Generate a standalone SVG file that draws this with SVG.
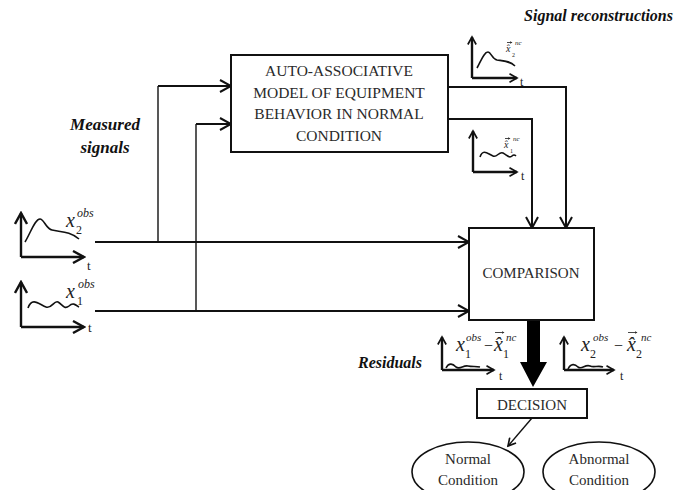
<svg xmlns="http://www.w3.org/2000/svg" width="695" height="490" viewBox="0 0 695 490" font-family="'Liberation Serif', 'DejaVu Serif', serif">
  <style>
    .box { fill: #fff; stroke: #111; stroke-width: 2; }
    .conn { fill: none; stroke: #111; stroke-width: 2; }
    .thin { fill: none; stroke: #111; stroke-width: 1.4; }
    .axis { fill: none; stroke: #111; stroke-width: 2.4; }
    .curve { fill: none; stroke: #111; stroke-width: 1.6; }
    .vec { fill: none; stroke: #333; stroke-width: 0.9; }
    .lbl { fill: #2a2a2a; }
    .cap { font-size: 15.5px; text-anchor: middle; }
    .head { font-weight: bold; font-style: italic; fill: #111; }
    .math { fill: #222; }
    .it { font-style: italic; }
  </style>
  <defs>
    <marker id="chev" viewBox="0 0 14 14" markerWidth="14" markerHeight="14" refX="12" refY="7" orient="auto" markerUnits="userSpaceOnUse">
      <path d="M1,1 L12,7 L1,13" fill="none" stroke="#111" stroke-width="2"/>
    </marker>
    <marker id="axhead" viewBox="0 0 14 14" markerWidth="14" markerHeight="14" refX="12" refY="7" orient="auto" markerUnits="userSpaceOnUse">
      <path d="M1,1 L12,7 L1,13" fill="none" stroke="#111" stroke-width="2.4"/>
    </marker>
    <marker id="axsmall" viewBox="0 0 12 12" markerWidth="10" markerHeight="10" refX="10" refY="6" orient="auto" markerUnits="userSpaceOnUse">
      <path d="M1,1 L10,6 L1,11" fill="none" stroke="#111" stroke-width="2"/>
    </marker>
    <marker id="vecTip" viewBox="0 0 6 6" markerWidth="3" markerHeight="3" refX="5" refY="3" orient="auto" markerUnits="userSpaceOnUse">
      <path d="M0,0 L6,3 L0,6 Z" fill="#333"/>
    </marker>
  </defs>

  <!-- section headings -->
  <text class="head" x="673" y="21" font-size="16" text-anchor="end">Signal reconstructions</text>
  <text class="head" x="105" y="130" font-size="17" text-anchor="middle">Measured</text>
  <text class="head" x="105" y="153" font-size="17" text-anchor="middle">signals</text>
  <text class="head" x="390" y="368" font-size="16" text-anchor="middle">Residuals</text>

  <!-- connectors -->
  <g id="connectors">
    <path class="conn" d="M95,242 H469" marker-end="url(#chev)"/>
    <path class="conn" d="M95,311 H469" marker-end="url(#chev)"/>
    <path class="thin" d="M158,242 V86"/>
    <path class="conn" d="M158,86 H231" marker-end="url(#chev)"/>
    <path class="thin" d="M196,311 V124"/>
    <path class="conn" d="M196,124 H231" marker-end="url(#chev)"/>
    <path class="conn" d="M448,87 H566 V228" marker-end="url(#chev)"/>
    <path class="conn" d="M448,119 H532 V228" marker-end="url(#chev)"/>
    <path d="M527,320 V362 H520 L533,387 L547,362 H540 V320 Z" fill="#000"/>
    <path class="thin" d="M532,418 L508,446" marker-end="url(#axsmall)"/>
  </g>

  <!-- model block -->
  <g id="model">
    <rect class="box" x="231" y="55" width="217" height="97"/>
    <text class="lbl cap" x="339" y="76">AUTO-ASSOCIATIVE</text>
    <text class="lbl cap" x="339" y="98">MODEL OF EQUIPMENT</text>
    <text class="lbl cap" x="339" y="119">BEHAVIOR IN NORMAL</text>
    <text class="lbl cap" x="339" y="141">CONDITION</text>
  </g>

  <!-- comparison block -->
  <g id="comparison">
    <rect class="box" x="469" y="228" width="125" height="92"/>
    <text class="lbl" x="531" y="278" font-size="15" text-anchor="middle">COMPARISON</text>
  </g>

  <!-- decision block -->
  <g id="decision">
    <rect class="box" x="477" y="389" width="110" height="29"/>
    <text class="lbl" x="532" y="410" font-size="15" text-anchor="middle">DECISION</text>
  </g>

  <!-- outcomes -->
  <g id="normal">
    <ellipse cx="468" cy="472" rx="56" ry="30" fill="#fff" stroke="#111" stroke-width="1.6"/>
    <text class="lbl" x="468" y="464" font-size="15" text-anchor="middle">Normal</text>
    <text class="lbl" x="468" y="485" font-size="15" text-anchor="middle">Condition</text>
  </g>
  <g id="abnormal">
    <ellipse cx="599" cy="472" rx="56" ry="30" fill="#fff" stroke="#111" stroke-width="1.6"/>
    <text class="lbl" x="599" y="464" font-size="15" text-anchor="middle">Abnormal</text>
    <text class="lbl" x="599" y="485" font-size="15" text-anchor="middle">Condition</text>
  </g>

  <!-- measured signal x2 -->
  <g id="plot-x2-obs">
    <path class="axis" d="M21,257 V213" marker-end="url(#axhead)"/>
    <path class="axis" d="M21,257 H84" marker-end="url(#axhead)"/>
    <path class="curve" d="M25,242 C31,232 35,219 40,219 C44,219 46,229 52,230 C60,232 70,231 79,239"/>
    <text class="math" x="87" y="270" font-size="13">t</text>
    <text class="math"><tspan class="it" x="66" y="227" font-size="20">x</tspan><tspan class="it" x="77" y="217" font-size="12">obs</tspan><tspan x="76" y="234" font-size="12">2</tspan></text>
  </g>

  <!-- measured signal x1 -->
  <g id="plot-x1-obs">
    <path class="axis" d="M21,327 V282" marker-end="url(#axhead)"/>
    <path class="axis" d="M21,327 H84" marker-end="url(#axhead)"/>
    <path class="curve" d="M28,308 C32,296 40,305 46,307 C52,309 54,300 58,302 C62,304 64,310 69,306 C73,302 76,305 79,307"/>
    <text class="math" x="88" y="332" font-size="13">t</text>
    <text class="math"><tspan class="it" x="66" y="298" font-size="20">x</tspan><tspan class="it" x="78" y="288" font-size="12">obs</tspan><tspan x="77" y="305" font-size="12">1</tspan></text>
  </g>

  <!-- reconstruction x2 -->
  <g id="plot-x2-nc">
    <path class="axis" d="M472,78 V37" marker-end="url(#axsmall)"/>
    <path class="axis" d="M472,78 H517" marker-end="url(#axsmall)"/>
    <path class="curve" d="M477,68 C481,61 484,52 488,52 C491,52 492,59 497,60 C504,61 510,61 515,66"/>
    <text class="math" x="520" y="86" font-size="12">t</text>
    <path class="vec" d="M507,42.5 H512" marker-end="url(#vecTip)"/>
    <text class="math"><tspan class="it" x="506" y="52" font-size="10">x̂</tspan><tspan x="512" y="57" font-size="6">2</tspan><tspan class="it" x="515" y="45" font-size="7">nc</tspan></text>
  </g>

  <!-- reconstruction x1 -->
  <g id="plot-x1-nc">
    <path class="axis" d="M473,172 V131" marker-end="url(#axsmall)"/>
    <path class="axis" d="M473,172 H517" marker-end="url(#axsmall)"/>
    <path class="curve" d="M480,157 C483,148 488,154 493,156 C497,158 499,151 503,153 C507,155 509,159 512,156 C514,154 515,155 516,156"/>
    <text class="math" x="521" y="180" font-size="12">t</text>
    <path class="vec" d="M505,138.5 H510" marker-end="url(#vecTip)"/>
    <text class="math"><tspan class="it" x="504" y="148" font-size="10">x̂</tspan><tspan x="510" y="153" font-size="6">1</tspan><tspan class="it" x="513" y="141" font-size="7">nc</tspan></text>
  </g>

  <!-- residual r1 -->
  <g id="plot-r1">
    <path class="axis" d="M442,370 V337" marker-end="url(#axsmall)"/>
    <path class="axis" d="M442,370 H494" marker-end="url(#axsmall)"/>
    <path class="curve" d="M446,368 C449,362 453,364 456,367 C460,370 463,365 468,366 C472,367 476,366 480,367"/>
    <text class="math" x="499" y="380" font-size="12">t</text>
    <path class="vec" d="M495,332.5 H504" marker-end="url(#vecTip)"/>
    <text class="math"><tspan class="it" x="456" y="351" font-size="20">x</tspan><tspan x="465" y="358" font-size="12">1</tspan><tspan class="it" x="466" y="341" font-size="11">obs</tspan><tspan x="484" y="351" font-size="16">−</tspan><tspan class="it" x="494" y="351" font-size="20">x̂</tspan><tspan x="503" y="358" font-size="12">1</tspan><tspan class="it" x="506" y="341" font-size="11">nc</tspan></text>
  </g>

  <!-- residual r2 -->
  <g id="plot-r2">
    <path class="axis" d="M564,370 V337" marker-end="url(#axsmall)"/>
    <path class="axis" d="M564,370 H614" marker-end="url(#axsmall)"/>
    <path class="curve" d="M568,369 C571,363 575,364 578,367 C582,370 585,364 590,366 C594,368 598,365 603,367"/>
    <text class="math" x="620" y="380" font-size="12">t</text>
    <path class="vec" d="M628,332.5 H637" marker-end="url(#vecTip)"/>
    <text class="math"><tspan class="it" x="581" y="351" font-size="20">x</tspan><tspan x="590" y="358" font-size="12">2</tspan><tspan class="it" x="593" y="341" font-size="11">obs</tspan><tspan x="614" y="351" font-size="16">−</tspan><tspan class="it" x="627" y="351" font-size="20">x̂</tspan><tspan x="636" y="358" font-size="12">2</tspan><tspan class="it" x="641" y="341" font-size="11">nc</tspan></text>
  </g>
</svg>
